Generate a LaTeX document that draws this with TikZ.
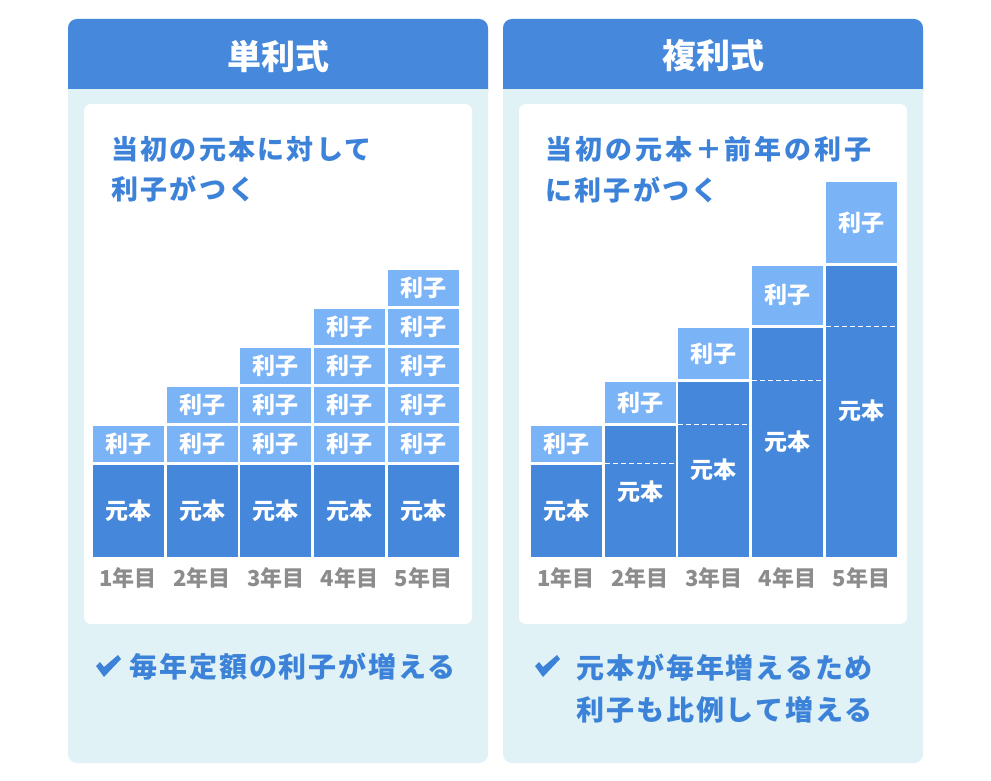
\documentclass[tikz,border=0pt]{standalone}
\usepackage{fontspec}
\newfontfamily\jp{Noto Sans CJK JP}
\newfontfamily\jpt{Noto Sans CJK JP}[LetterSpace=8.5]
\newfontfamily\jptw{Noto Sans CJK JP}[LetterSpace=11]
\newfontfamily\jpf{Noto Sans CJK JP}[LetterSpace=7]
\definecolor{hdrc}{RGB}{69,136,220}
\definecolor{darkc}{RGB}{68,135,219}
\definecolor{lightc}{RGB}{123,179,247}
\definecolor{bgc}{RGB}{224,242,245}
\definecolor{txtc}{RGB}{60,130,216}
\definecolor{grayc}{RGB}{140,140,140}
\begin{document}
\begin{tikzpicture}[x=1pt,y=-1pt,
  panelbg/.style={fill=bgc, rounded corners=9pt},
  hdrtxt/.style={font=\jp\bfseries\fontsize{34}{40}\selectfont, text=white, inner sep=0},
  ttl/.style={font=\jpt\bfseries\fontsize{27}{32}\selectfont, text=txtc, anchor=west, inner sep=0},
  ttlw/.style={ttl, font=\jptw\bfseries\fontsize{27}{32}\selectfont},
  foot/.style={font=\jpf\bfseries\fontsize{28}{33}\selectfont, text=txtc, anchor=west, inner sep=0},
  blk/.style={text=white, inner sep=0, outer sep=0, anchor=north west, minimum width=71pt, font=\jp\bfseries\fontsize{23}{26}\selectfont},
  darkblk/.style={blk, fill=darkc},
  lightblk/.style={blk, fill=lightc},
  yr/.style={text=grayc, inner sep=0, font=\jp\bfseries\fontsize{22}{26}\selectfont},
  dashline/.style={white, line width=1pt, dash pattern=on 5pt off 3pt},
  checkmk/.style={fill=txtc}
]
\useasboundingbox (0,0) rectangle (991,781);
\fill[white] (0,0) rectangle (991,781);

% ---------- panels ----------
\foreach \px in {68,503}{
  \fill[panelbg] (\px,19) rectangle (\px+420,763);
  \fill[hdrc, rounded corners=9pt] (\px,19) rectangle (\px+420,100);
  \fill[bgc] (\px,89) rectangle (\px+420,101);
  \fill[white, rounded corners=7pt] (\px+16,104) rectangle (\px+404,624);
}

\node[hdrtxt] (h1) at (278,56) {単利式};
\node[hdrtxt] (h2) at (713,56) {複利式};

\node[ttl] (t1a) at (111,149) {当初の元本に対して};
\node[ttl] (t1b) at (111,189) {利子がつく};
\node[ttlw] (t2a) at (545,149) {当初の元本＋前年の利子};
\node[ttl] (t2b) at (545,190) {に利子がつく};

% ---------- left chart ----------
\foreach \i in {1,...,5}{
  \pgfmathsetmacro{\xx}{92.7+73.8*(\i-1)}
  \pgfmathsetmacro{\xc}{\xx+35.5}
  \node[darkblk, minimum height=92pt] (Lp\i) at (\xx,464.7) {元本};
  \node[yr] (Ly\i) at (\xc,578) {\i{}年目};
  \foreach \k in {1,...,\i}{
    \pgfmathsetmacro{\yy}{425.7-39*(\k-1)}
    \node[lightblk, minimum height=36pt] (Li\i-\k) at (\xx,\yy) {利子};
  }
}

% ---------- right chart ----------
\def\Dlist{{464.7,426,382,327.7,265.5}}
\def\Tlist{{426,382,327.7,265.5,182.3}}
\foreach \i in {1,...,5}{
  \pgfmathsetmacro{\xx}{530.7+73.8*(\i-1)}
  \pgfmathsetmacro{\xc}{\xx+35.5}
  \pgfmathsetmacro{\dt}{\Dlist[\i-1]}
  \pgfmathsetmacro{\tp}{\Tlist[\i-1]}
  \pgfmathsetmacro{\dh}{556.7-\dt}
  \pgfmathsetmacro{\lh}{\dt-3-\tp}
  \node[darkblk, minimum height=\dh pt] (Rp\i) at (\xx,\dt) {元本};
  \node[lightblk, minimum height=\lh pt] (Ri\i) at (\xx,\tp) {利子};
  \node[yr] (Ry\i) at (\xc,578) {\i{}年目};
}
\foreach \i in {2,...,5}{
  \pgfmathsetmacro{\xx}{530.7+73.8*(\i-1)}
  \pgfmathsetmacro{\dy}{\Dlist[\i-2]-1.5}
  \coordinate (Rd\i a) at (\xx,\dy);
  \coordinate (Rd\i b) at (\xx+71,\dy);
  \draw[dashline] (Rd\i a) -- (Rd\i b);
}

% ---------- footers ----------
\fill[checkmk] (96,666) -- (100,662) -- (104,667) -- (118,655) -- (121,659) -- (104,677) -- cycle;
\node[foot] (f1) at (129,667) {毎年定額の利子が増える};

\fill[checkmk] (535,666) -- (539,662) -- (543,667) -- (557,655) -- (560,659) -- (543,677) -- cycle;
\node[foot] (f2a) at (576,668) {元本が毎年増えるため};
\node[foot] (f2b) at (576,710) {利子も比例して増える};
\end{tikzpicture}
\end{document}
